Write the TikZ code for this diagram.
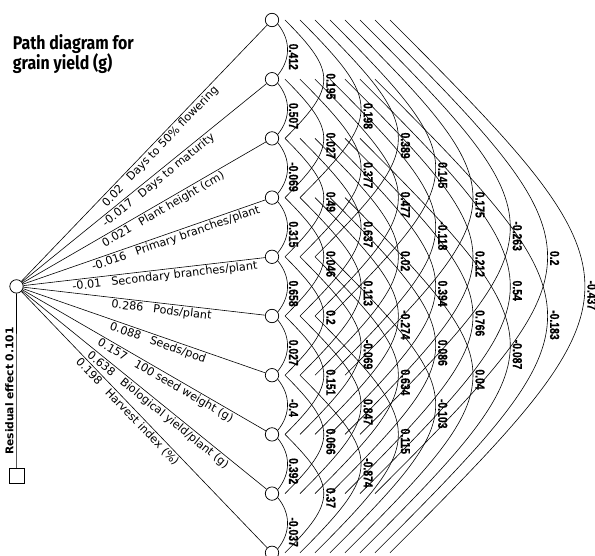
\documentclass[tikz,border=0pt]{standalone}
\usepackage{fontspec}
\setmainfont{DejaVu Sans}
\newfontfamily\arcfont[FakeStretch=0.8, FakeBold=0.6]{Liberation Sans Bold}
\newfontfamily\titlefont[FakeStretch=0.86]{Fira Sans Bold}
\usetikzlibrary{calc}
\begin{document}
\begin{tikzpicture}[x=1pt,y=-1pt,
  var/.style={circle, draw, minimum size=13.4pt, inner sep=0pt, line width=0.75pt},
  pathline/.style={line width=0.6pt},
  corr/.style={line width=0.6pt},
  clab/.style={font=\arcfont\fontsize{13}{13}\selectfont, rotate=-90, anchor=west, inner sep=0pt},
  plab/.style={font=\fontsize{11.2}{11.2}\selectfont, sloped, anchor=north west, inner sep=1.6pt},
  ttl/.style={anchor=base west, inner sep=0pt, font=\titlefont\fontsize{18.5}{18.5}\selectfont},
]
\useasboundingbox (0,0) rectangle (595,556);
% title
\node[ttl] (t1) at (12.7,49.3) {Path diagram for};
\node[ttl] (t2) at (12.7,70) {grain yield (g)};
% variable circles
\foreach \i in {1,...,10} {
  \node[var] (c\i) at (272, {20+59.2*(\i-1)}) {};
}
% arc end points
\foreach \i in {1,...,10} {
  \foreach \n in {2,...,9} {
    \coordinate (e\i-\n) at ({285+15*(\n-2)}, {20+59.2*(\i-1)});
  }
}
% adjacent correlations
\foreach \i/\v in {1/0.412,2/0.507,3/-0.069,4/0.315,5/0.658,6/0.027,7/-0.4,8/0.392,9/-0.037} {
  \pgfmathtruncatemacro\j{\i+1}
  \draw[corr] (c\i.-35) .. controls +(13,16) and +(13,-16) .. (c\j.35);
  \node[clab] (l\i-\j) at (293.5, {20+59.2*((\i+\j)/2-1)-6}) {\v};
}
% wider correlations
\foreach \i/\j/\v in {1/3/0.195,2/4/0.027,3/5/0.49,4/6/0.046,5/7/0.2,6/8/0.151,7/9/0.066,8/10/0.37,
  1/4/0.198,2/5/0.377,3/6/0.637,4/7/0.113,5/8/-0.069,6/9/0.847,7/10/-0.874,
  1/5/0.389,2/6/0.477,3/7/0.02,4/8/-0.274,5/9/0.634,6/10/0.115,
  1/6/0.145,2/7/-0.118,3/8/0.394,4/9/0.086,5/10/-0.103,
  1/7/0.175,2/8/0.212,3/9/0.766,4/10/0.04,
  1/8/-0.263,2/9/0.54,3/10/-0.087,
  1/9/0.2,2/10/-0.183,
  1/10/-0.437} {
  \pgfmathtruncatemacro\n{\j-\i}
  \pgfmathsetmacro\k{51.7+29.74*(\n-2)}
  \draw[corr] (e\i-\n) .. controls +(\k,\k) and +(\k,-\k) .. (e\j-\n);
  \node[clab] (l\i-\j) at ({293.5+37.3*(\n-1)}, {20+59.2*((\i+\j)/2-1)-6}) {\v};
}
% source node
\node[var] (L) at (16.5,286.4) {};
\draw[pathline] (L) -- (c1) node[plab, pos=0.312] (p1) {0.02\hspace{0.9em}Days to 50\% flowering};
\draw[pathline] (L) -- (c2) node[plab, pos=0.311] (p2) {-0.017\hspace{0.9em}Days to maturity};
\draw[pathline] (L) -- (c3) node[plab, pos=0.31] (p3) {0.021\hspace{0.9em}Plant height (cm)};
\draw[pathline] (L) -- (c4) node[plab, pos=0.268] (p4) {-0.016\hspace{0.9em}Primary branches/plant};
\draw[pathline] (L) -- (c5) node[plab, pos=0.192] (p5) {-0.01\hspace{0.9em}Secondary branches/plant};
\draw[pathline] (L) -- (c6) node[plab, pos=0.36] (p6) {0.286\hspace{0.9em}Pods/plant};
\draw[pathline] (L) -- (c7) node[plab, pos=0.362] (p7) {0.088\hspace{0.9em}Seeds/pod};
\draw[pathline] (L) -- (c8) node[plab, pos=0.32] (p8) {0.157\hspace{0.9em}100 seed weight (g)};
\draw[pathline] (L) -- (c9) node[plab, pos=0.285] (p9) {0.638\hspace{0.9em}Biological yield/plant (g)};
\draw[pathline] (L) -- (c10) node[plab, pos=0.245] (p10) {0.198\hspace{0.9em}Harvest index (\%)};
% residual
\node[draw, minimum size=14.5pt, inner sep=0pt, line width=0.75pt] (res) at (16.7,475.8) {};
\draw[pathline] (L) -- (res);
\node[rotate=90, inner sep=0pt, font=\bfseries\fontsize{10.7}{10.7}\selectfont] (reslab) at (9.3,391) {Residual effect 0.101};
\end{tikzpicture}
\end{document}
